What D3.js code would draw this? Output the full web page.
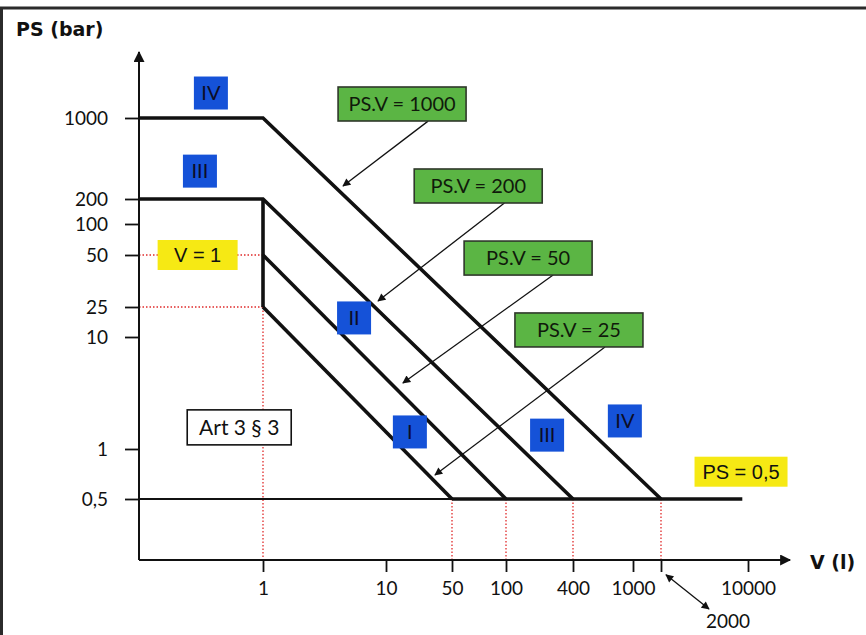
<!DOCTYPE html>
<html>
<head>
<meta charset="utf-8">
<script src="https://cdn.jsdelivr.net/npm/d3@7"></script>
<style>
  body { margin: 0; background: #fff; }
  svg { display: block; }
</style>
</head>
<body>
<svg id="chart"></svg>
<script>
// axis ticks: volume V (l) and pressure PS (bar)
const vTicks = [1, 10, 50, 100, 400, 1000, 2000, 10000];
const vTickLabels = ["1", "10", "50", "100", "400", "1000", "", "10000"];
const psTicks = [0.5, 1, 10, 25, 50, 100, 200, 1000];
const psTickLabels = ["0,5", "1", "10", "25", "50", "100", "200", "1000"];

// category boundaries as [V, PS] vertices
const boundIV = [[0.1, 1000], [1, 1000], [2000, 0.5]];
const boundIII = [[0.1, 200], [1, 200], [400, 0.5]];
const boundV1 = [[1, 200], [1, 25]];
const boundII = [[1, 50], [100, 0.5]];
const boundI = [[1, 25], [50, 0.5]];
const baseThick = [[50, 0.5], [9000, 0.5]];
const baseThin = [[0.1, 0.5], [50, 0.5]];

// red dotted guides
const guidePS = [50, 25];                    // horizontal, from axis to V = 1
const guideV = [1, 50, 100, 400, 2000];      // vertical, down to the V axis
const guideVFrom = [25, 0.5, 0.5, 0.5, 0.5];

// category squares
const catLabels = ["IV", "III", "II", "I", "III", "IV"];
const catV = [0.38, 0.31, 5.5, 17.9, 234, 883];
const catPS = [1690, 348, 17.9, 1.42, 1.33, 1.78];

// PS.V callouts with their arrows
const pvLabels = ["PS.V = 1000", "PS.V = 200", "PS.V = 50", "PS.V = 25"];
const pvV = [14.8, 70, 158, 438];
const pvPS = [1342, 259, 48, 12.4];
const pvFrom = [[27.9, 940], [98, 179], [265, 38.3], [652, 8.14]];
const pvTo = [[4.47, 259], [8.61, 27.1], [15.1, 3.88], [33, 0.698]];

// yellow notes and the Art 3 § 3 box
const noteLabels = ["V = 1", "PS = 0,5"];
const noteV = [0.297, 8790];
const notePS = [50, 0.73];
const artLabel = "Art 3 § 3";
const artAt = [0.643, 1.56];

// 2000 callout under the V axis
const callout2000 = { label: "2000", from: [2193, 0.16], to: [4860, 0.0957], at: [6903, 0.072] };

const width = 866, height = 635;
const svg = d3.select("#chart").attr("width", width).attr("height", height);

// the drawing is schematic: log axes with hand-placed ticks
const x = d3.scaleLog()
  .domain([0.1, 1, 10, 50, 100, 400, 1000, 2000, 10000, 30000])
  .range([139, 263, 386, 452, 506, 573, 633, 661, 748, 790]);
const y = d3.scaleLog()
  .domain([0.2, 0.5, 1, 10, 25, 50, 100, 200, 1000, 4000])
  .range([560, 499, 449, 337, 307, 255, 224, 199, 118, 52]);

const x0 = x.range()[0], x1 = x.range()[x.range().length - 1];
const y0 = y.range()[0], y1 = y.range()[y.range().length - 1];

const defs = svg.append("defs");
defs.append("marker").attr("id", "axisHead")
  .attr("viewBox", "0 0 10 10").attr("refX", 9).attr("refY", 5)
  .attr("markerWidth", 14).attr("markerHeight", 11).attr("markerUnits", "userSpaceOnUse")
  .attr("orient", "auto")
  .append("path").attr("d", "M0,0L10,5L0,10Z").attr("fill", "#111");
defs.append("marker").attr("id", "head")
  .attr("viewBox", "0 0 10 10").attr("refX", 9).attr("refY", 5)
  .attr("markerWidth", 10).attr("markerHeight", 8).attr("markerUnits", "userSpaceOnUse")
  .attr("orient", "auto-start-reverse")
  .append("path").attr("d", "M0,0L10,5L0,10Z").attr("fill", "#111");

// page frame (left and top edges of the scan)
svg.append("rect")
  .attr("x", 1.5).attr("y", 8).attr("width", width + 20).attr("height", height + 20)
  .attr("fill", "none").attr("stroke", "#2b2b2b").attr("stroke-width", 3);

const line = d3.line().x(d => x(d[0])).y(d => y(d[1]));

// red dotted guides
const guides = svg.append("g")
  .attr("stroke", "#e02a2a").attr("stroke-width", 1.3).attr("stroke-dasharray", "1.5,2");
guidePS.forEach(ps => {
  guides.append("line")
    .attr("x1", x0).attr("x2", x(1)).attr("y1", y(ps)).attr("y2", y(ps));
});
guideV.forEach((v, i) => {
  guides.append("line")
    .attr("x1", x(v)).attr("x2", x(v)).attr("y1", y(guideVFrom[i])).attr("y2", y0);
});

// axes
const yAxis = svg.append("g")
  .attr("transform", `translate(${x0},0)`)
  .call(d3.axisLeft(y).tickValues(psTicks).tickSize(14).tickPadding(17)
    .tickFormat((d, i) => psTickLabels[i]));
const xAxis = svg.append("g")
  .attr("transform", `translate(0,${y0})`)
  .call(d3.axisBottom(x).tickValues(vTicks).tickSize(12).tickPadding(10)
    .tickFormat((d, i) => vTickLabels[i]));
[yAxis, xAxis].forEach(g => {
  g.select(".domain").remove();
  g.selectAll(".tick line").attr("stroke", "#111").attr("stroke-width", 1.8);
  g.selectAll(".tick text")
    .attr("fill", "#111")
    .style("font-family", "Lato, 'Noto Sans', sans-serif")
    .style("font-size", "19px");
});

svg.append("line")
  .attr("x1", x0).attr("y1", y0).attr("x2", x0).attr("y2", y1)
  .attr("stroke", "#111").attr("stroke-width", 2).attr("marker-end", "url(#axisHead)");
svg.append("line")
  .attr("x1", x0).attr("y1", y0).attr("x2", x1).attr("y2", y0)
  .attr("stroke", "#111").attr("stroke-width", 2).attr("marker-end", "url(#axisHead)");

svg.append("text").attr("x", 16).attr("y", 36).text("PS (bar)")
  .style("font-family", "'DejaVu Sans', sans-serif").style("font-weight", "bold")
  .style("font-size", "19px").attr("fill", "#111");
svg.append("text").attr("x", 810).attr("y", 569).text("V (l)")
  .style("font-family", "'DejaVu Sans', sans-serif").style("font-weight", "bold")
  .style("font-size", "19px").attr("fill", "#111");

// boundaries
svg.append("path").datum(baseThin).attr("d", line)
  .attr("fill", "none").attr("stroke", "#111").attr("stroke-width", 2);
[boundIV, boundIII, boundV1, boundII, boundI, baseThick].forEach(pts => {
  svg.append("path").datum(pts).attr("d", line)
    .attr("fill", "none").attr("stroke", "#111").attr("stroke-width", 3.6)
    .attr("stroke-linejoin", "miter");
});

// box helper
function box(cx, cy, w, h, fill, stroke, label, color, font, size) {
  const g = svg.append("g");
  g.append("rect")
    .attr("x", cx - w / 2).attr("y", cy - h / 2).attr("width", w).attr("height", h)
    .attr("fill", fill).attr("stroke", stroke || "none").attr("stroke-width", stroke ? 1.6 : 0);
  g.append("text")
    .attr("x", cx).attr("y", cy).attr("dy", "0.36em").attr("text-anchor", "middle")
    .attr("fill", color).style("font-family", font).style("font-size", size + "px")
    .text(label);
  return g;
}

// category squares
catLabels.forEach((lab, i) => {
  box(x(catV[i]), y(catPS[i]), 34, 33, "#1552d8", null, lab, "#0c0d26",
    "Lato, 'Noto Sans', sans-serif", 20);
});

// PS.V callouts
pvLabels.forEach((lab, i) => {
  svg.append("line")
    .attr("x1", x(pvFrom[i][0])).attr("y1", y(pvFrom[i][1]))
    .attr("x2", x(pvTo[i][0])).attr("y2", y(pvTo[i][1]))
    .attr("stroke", "#111").attr("stroke-width", 1.3).attr("marker-end", "url(#head)");
  box(x(pvV[i]), y(pvPS[i]), 128, 34, "#5bb544", "#2f382a", lab, "#101a0b",
    "Lato, 'Noto Sans', sans-serif", 20);
});

// yellow notes
box(x(noteV[0]), y(notePS[0]), 80, 30, "#f6e914", null, noteLabels[0], "#111",
  "'Liberation Sans', Arial, sans-serif", 20);
box(x(noteV[1]), y(notePS[1]), 93, 30, "#f6e914", null, noteLabels[1], "#111",
  "'Liberation Sans', Arial, sans-serif", 20);

// Art 3 § 3
box(x(artAt[0]), y(artAt[1]), 104, 35, "#fff", "#111", artLabel, "#111",
  "Lato, 'Noto Sans', sans-serif", 21);

// 2000 callout
svg.append("line")
  .attr("x1", x(callout2000.from[0])).attr("y1", y(callout2000.from[1]))
  .attr("x2", x(callout2000.to[0])).attr("y2", y(callout2000.to[1]))
  .attr("stroke", "#111").attr("stroke-width", 1.3)
  .attr("marker-start", "url(#head)").attr("marker-end", "url(#head)");
svg.append("text")
  .attr("x", x(callout2000.at[0])).attr("y", y(callout2000.at[1]))
  .attr("text-anchor", "middle").attr("fill", "#111")
  .style("font-family", "Lato, 'Noto Sans', sans-serif").style("font-size", "19px")
  .text(callout2000.label);
</script>
</body>
</html>
